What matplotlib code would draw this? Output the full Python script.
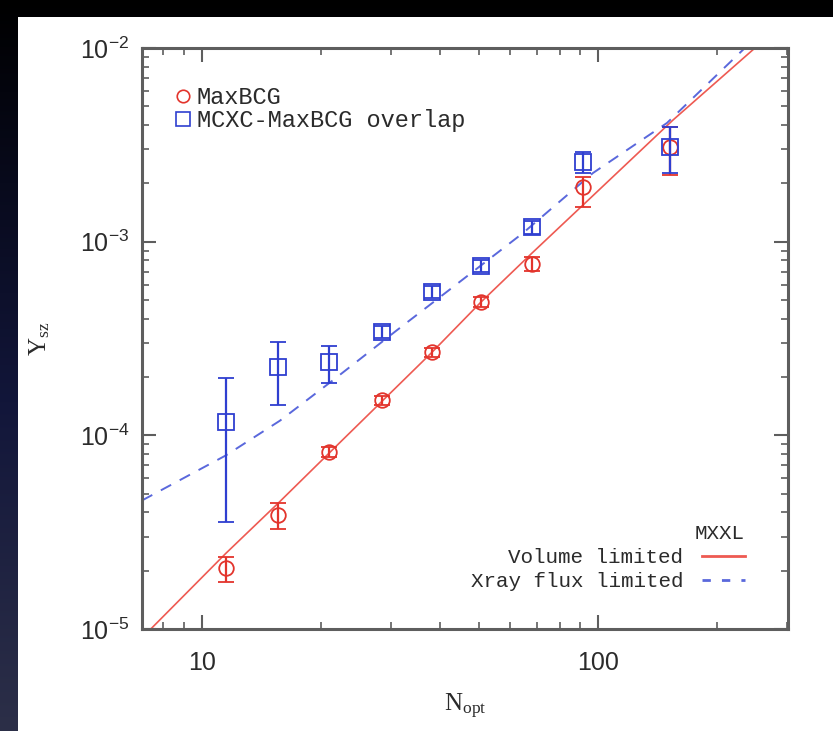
import numpy as np
import matplotlib
matplotlib.use("Agg")
import matplotlib.pyplot as plt
from matplotlib.lines import Line2D
from matplotlib.patches import Rectangle
from matplotlib.colors import LinearSegmentedColormap
from matplotlib.ticker import LogLocator, FuncFormatter, NullFormatter

# ---------------- data ----------------
n_opt = [11.5, 15.6, 21.0, 28.5, 38.1, 50.6, 68.1, 91.6, 152.0]

maxbcg_y = [2.06e-5, 3.86e-5, 8.17e-5, 1.52e-4, 2.68e-4, 4.87e-4, 7.65e-4, 1.91e-3, 3.08e-3]
maxbcg_lo = [1.74e-5, 3.27e-5, 7.70e-5, 1.44e-4, 2.55e-4, 4.62e-4, 7.05e-4, 1.51e-3, 2.22e-3]
maxbcg_hi = [2.34e-5, 4.45e-5, 8.70e-5, 1.60e-4, 2.82e-4, 5.15e-4, 8.30e-4, 2.16e-3, 3.90e-3]

mcxc_y = [1.17e-4, 2.25e-4, 2.38e-4, 3.41e-4, 5.48e-4, 7.47e-4, 1.19e-3, 2.58e-3, 3.08e-3]
mcxc_lo = [3.55e-5, 1.43e-4, 1.86e-4, 3.18e-4, 5.10e-4, 6.95e-4, 1.10e-3, 2.26e-3, 2.26e-3]
mcxc_hi = [1.97e-4, 3.03e-4, 2.88e-4, 3.65e-4, 5.90e-4, 8.05e-4, 1.28e-3, 2.90e-3, 3.90e-3]

vol_x = [7.43, 11.50, 15.56, 21.05, 38.08, 50.64, 68.13, 91.65, 154.6, 249.2]
vol_y = [1.0e-5, 2.46e-5, 4.45e-5, 8.17e-5, 2.68e-4, 4.87e-4, 8.72e-4, 1.544e-3, 4.24e-3, 1.0e-2]

xray_x = [7.06, 11.50, 15.74, 21.42, 31.08, 39.9, 64.65, 97.1, 149.4, 235.0]
xray_y = [4.61e-5, 7.88e-5, 1.19e-4, 1.924e-4, 3.49e-4, 5.17e-4, 1.107e-3, 2.26e-3, 4.10e-3, 1.0e-2]

legend_top = ["MaxBCG", "MCXC-MaxBCG overlap"]
legend_bottom_title = "MXXL"
legend_bottom = ["Volume limited", "Xray flux limited"]

# ---------------- style ----------------
RED = "#e3342c"
BLUE = "#2f3fd0"
RED_LINE = "#ee5a52"
BLUE_LINE = "#5a68dc"
SPINE = "#5e5e5e"
TXT = "#2b2b2b"

W, H = 833, 731
fig = plt.figure(figsize=(W / 100, H / 100), dpi=100, facecolor="black")

# dark slide background with gradient on the left strip
bg = fig.add_axes([0, 0, 1, 1])
bg.set_axis_off()
cmap = LinearSegmentedColormap.from_list(
    "slide", [(0.0, "#000000"), (0.25, "#080a1c"), (0.55, "#12163a"), (1.0, "#2c2f48")])
grad = np.linspace(0, 1, 256).reshape(-1, 1)
bg.imshow(grad, cmap=cmap, aspect="auto", extent=[0, 1, 0, 1], origin="upper")
bg.set_xlim(0, 1)
bg.set_ylim(0, 1)
bg.add_patch(Rectangle((18 / W, 0), 1 - 18 / W, 1 - 17 / H,
                       facecolor="white", edgecolor="none"))

ax = fig.add_axes([142 / W, 1 - 629 / H, (788 - 142) / W, (629 - 48) / H])
ax.set_xscale("log")
ax.set_yscale("log")
ax.set_xlim(7.06, 302)
ax.set_ylim(1e-5, 1e-2)

# model curves
ax.plot(vol_x, vol_y, color=RED_LINE, lw=1.2, solid_capstyle="butt", zorder=2)
ax.plot(xray_x, xray_y, color=BLUE_LINE, lw=1.4, dashes=(6, 5), zorder=2)

# data points
y = np.array(maxbcg_y)
ax.errorbar(n_opt, y, yerr=[y - np.array(maxbcg_lo), np.array(maxbcg_hi) - y],
            fmt="o", ms=10.5, mfc="none", mec=RED, mew=1.3, ecolor=RED,
            elinewidth=1.6, capsize=5.5, capthick=1.6, zorder=3)
y2 = np.array(mcxc_y)
ax.errorbar(n_opt, y2, yerr=[y2 - np.array(mcxc_lo), np.array(mcxc_hi) - y2],
            fmt="s", ms=11.5, mfc="none", mec=BLUE, mew=1.3, ecolor=BLUE,
            elinewidth=1.6, capsize=5.5, capthick=1.6, zorder=4)

# axes styling (IDL look)
for s in ax.spines.values():
    s.set_color(SPINE)
    s.set_linewidth(2.2)
ax.tick_params(which="both", direction="in", top=True, right=True, color=SPINE)
ax.tick_params(which="major", length=10, width=1.5)
ax.tick_params(which="minor", length=5, width=1.2)
ax.xaxis.set_major_locator(LogLocator(base=10, numticks=10))
ax.xaxis.set_minor_locator(LogLocator(base=10, subs=np.arange(2, 10), numticks=10))
ax.yaxis.set_major_locator(LogLocator(base=10, numticks=10))
ax.yaxis.set_minor_locator(LogLocator(base=10, subs=np.arange(2, 10), numticks=10))
ax.xaxis.set_minor_formatter(NullFormatter())
ax.yaxis.set_minor_formatter(NullFormatter())
ax.xaxis.set_major_formatter(FuncFormatter(lambda v, p: f"{v:g}"))
ax.yaxis.set_major_formatter(FuncFormatter(
    lambda v, p: r"$\mathregular{10^{%d}}$" % int(round(np.log10(v)))))
ax.tick_params(axis="x", pad=16, labelsize=18, labelcolor=TXT)
ax.tick_params(axis="y", pad=9, labelsize=18, labelcolor=TXT)
plt.setp(ax.get_xticklabels(), family="Liberation Sans")
plt.setp(ax.get_yticklabels(), family="Liberation Sans")

ax.set_xlabel(r"$\mathregular{N_{opt}}$", family="Liberation Serif",
              fontsize=18, color=TXT, labelpad=12)
ax.set_ylabel(r"$\mathregular{Y_{sz}}$", family="Liberation Serif",
              fontsize=18, color=TXT, labelpad=20)

# legends
mono = dict(family="Liberation Mono", size=17)
h1 = [Line2D([], [], ls="none", marker="o", ms=9, mfc="none", mec=RED, mew=1.2),
      Line2D([], [], ls="none", marker="s", ms=10, mfc="none", mec=BLUE, mew=1.2)]
leg1 = ax.legend(h1, legend_top, loc="upper left", bbox_to_anchor=(0.05, 0.935),
                 frameon=False, prop=mono, handlelength=0.7, handletextpad=0.25,
                 labelspacing=0.0, borderaxespad=0, borderpad=0)
for t in leg1.get_texts():
    t.set_color(TXT)
ax.add_artist(leg1)

mono2 = dict(family="Liberation Mono", size=15)
h2 = [Line2D([], [], color=RED_LINE, lw=2.0),
      Line2D([], [], color=BLUE_LINE, lw=2.0, dashes=(3, 4))]
leg2 = ax.legend(h2, legend_bottom, loc="lower right", bbox_to_anchor=(0.933, 0.065),
                 frameon=False, prop=mono2, markerfirst=False, handlelength=2.05,
                 handletextpad=0.9, labelspacing=0.25, borderaxespad=0, borderpad=0,
                 title=legend_bottom_title, title_fontproperties=mono2,
                 alignment="right")
for t in leg2.get_texts():
    t.set_color(TXT)
leg2.get_title().set_color(TXT)

fig.savefig("out.png", dpi=100, facecolor=fig.get_facecolor())
